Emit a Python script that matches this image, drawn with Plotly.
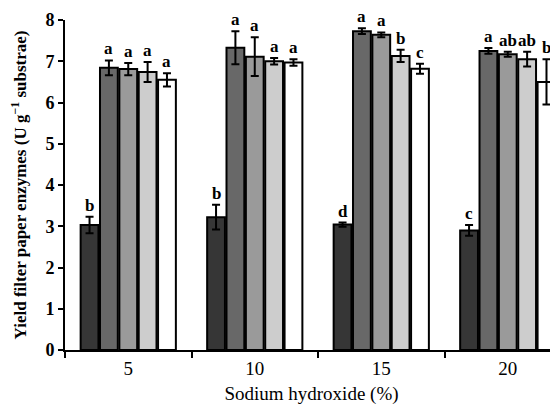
import plotly.graph_objects as go

categories = ["5", "10", "15", "20"]
series_names = ["T1", "T2", "T3", "T4", "T5"]
colors = ["#363636", "#686868", "#9a9a9a", "#cdcdcd", "#ffffff"]

values = [
    [3.03, 3.22, 3.04, 2.90],
    [6.84, 7.33, 7.73, 7.25],
    [6.81, 7.11, 7.64, 7.17],
    [6.74, 7.00, 7.13, 7.05],
    [6.55, 6.97, 6.82, 6.50],
]
errors = [
    [0.20, 0.30, 0.05, 0.13],
    [0.18, 0.40, 0.07, 0.07],
    [0.15, 0.47, 0.06, 0.06],
    [0.24, 0.08, 0.15, 0.18],
    [0.16, 0.08, 0.12, 0.55],
]
letters = [
    ["b", "b", "d", "c"],
    ["a", "a", "a", "a"],
    ["a", "a", "a", "ab"],
    ["a", "a", "b", "ab"],
    ["a", "a", "c", "b"],
]

bargap = 0.235
serif = "Liberation Serif, Times New Roman, serif"

fig = go.Figure()
for i, name in enumerate(series_names):
    fig.add_trace(go.Bar(
        name=name, x=categories, y=values[i],
        marker=dict(color=colors[i], line=dict(color="black", width=2)),
        error_y=dict(type="data", array=errors[i], color="black", thickness=2, width=4),
        showlegend=False,
    ))

n = len(series_names)
slot = (1 - bargap) / n
for i in range(n):
    for j in range(len(categories)):
        xpos = j - (1 - bargap) / 2 + slot * (i + 0.5)
        fig.add_annotation(
            x=xpos, y=values[i][j] + errors[i][j], xref="x", yref="y",
            text="<b>%s</b>" % letters[i][j], showarrow=False,
            yanchor="bottom", yshift=0,
            font=dict(family=serif, size=17, color="black"),
        )

# page body adds an 8px offset, so the figure is sized to fill the remaining window
fig.update_layout(
    width=550, height=397,
    margin=dict(l=57, r=0, t=12, b=55, autoexpand=False),
    plot_bgcolor="white", paper_bgcolor="white",
    barmode="group", bargap=bargap, bargroupgap=0.08,
    font=dict(family=serif, color="black"),
)
fig.update_xaxes(
    type="category", range=[-0.5, 3.397], automargin=False,
    showline=True, linecolor="black", linewidth=2,
    ticks="outside", tickson="boundaries", ticklen=6, tickwidth=2, tickcolor="black",
    tickfont=dict(family=serif, size=19, color="black"),
    title=dict(text="Sodium hydroxide (%)", font=dict(family=serif, size=19, color="black"), standoff=12),
    showgrid=False, zeroline=False,
)
fig.update_yaxes(
    range=[0, 8], tickvals=list(range(0, 9)), automargin=False,
    ticktext=["<b>%d</b>" % v for v in range(0, 9)],
    showline=True, linecolor="black", linewidth=2,
    ticks="outside", ticklen=5, tickwidth=2, tickcolor="black",
    tickfont=dict(family=serif, size=18, color="black"),
    title=dict(text="<b>Yield filter paper enzymes (U g<sup>\u22121</sup> substrae)</b>",
               font=dict(family=serif, size=17, color="black"), standoff=14),
    showgrid=False, zeroline=False,
)

fig.write_html("out.html")
